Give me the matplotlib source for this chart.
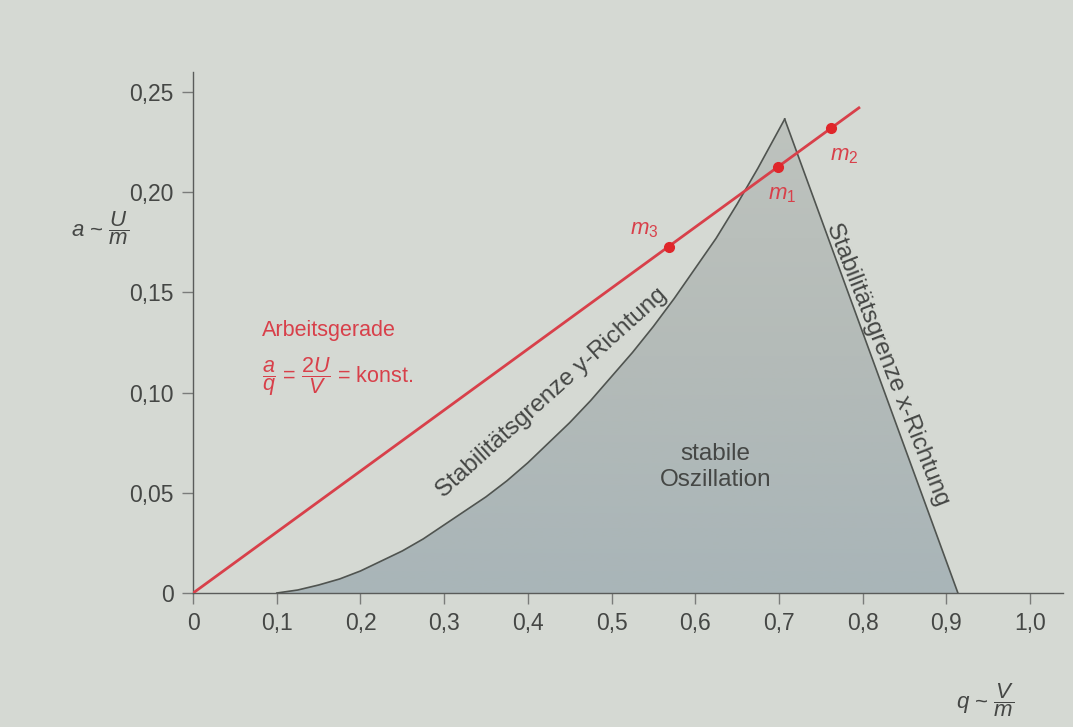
import numpy as np
import matplotlib.pyplot as plt
from matplotlib.patches import Polygon
from matplotlib.colors import LinearSegmentedColormap

plt.rcParams['font.family'] = ['Liberation Sans', 'DejaVu Sans']
plt.rcParams['mathtext.fontset'] = 'custom'
plt.rcParams['mathtext.rm'] = 'Liberation Sans'
plt.rcParams['mathtext.it'] = 'Liberation Sans:italic'

# stability boundary in y-direction
q_left = [0.100, 0.125, 0.150, 0.175, 0.200, 0.225, 0.250, 0.275, 0.300, 0.325, 0.350,
          0.375, 0.400, 0.425, 0.450, 0.475, 0.500, 0.525, 0.550, 0.575, 0.600, 0.625,
          0.650, 0.675, 0.707]
a_left = [0.0, 0.0015, 0.004, 0.007, 0.011, 0.016, 0.021, 0.027, 0.034, 0.041, 0.048,
          0.056, 0.065, 0.075, 0.085, 0.096, 0.108, 0.120, 0.133, 0.147, 0.162, 0.177,
          0.194, 0.212, 0.2365]
# stability boundary in x-direction
q_right = [0.707, 0.914]
a_right = [0.2365, 0.0]

# working line a/q = const and the three masses
line_q = [0.0, 0.797]
line_a = [0.0, 0.2425]
mass_q = [0.699, 0.762, 0.569]
mass_a = [0.2126, 0.232, 0.1726]
mass_labels = ['$m_1$', '$m_2$', '$m_3$']
mass_offsets = [(3, -20), (10, -20), (-18, 13)]

xticks = [0, 0.1, 0.2, 0.3, 0.4, 0.5, 0.6, 0.7, 0.8, 0.9, 1.0]
xtick_labels = ['0', '0,1', '0,2', '0,3', '0,4', '0,5', '0,6', '0,7', '0,8', '0,9', '1,0']
yticks = [0, 0.05, 0.10, 0.15, 0.20, 0.25]
ytick_labels = ['0', '0,05', '0,10', '0,15', '0,20', '0,25']

paper = '#d5d9d3'
ink = '#454745'
red = '#d8404a'

fig = plt.figure(figsize=(10.73, 7.27), dpi=100, facecolor=paper)
ax = fig.add_axes([0.18, 0.1843, 0.811, 0.7167])
ax.set_facecolor('none')

# shaded stable region with a soft gradient
poly_q = q_left + q_right[1:] + [0.1]
poly_a = a_left + a_right[1:] + [0.0]
poly = Polygon(np.column_stack([poly_q, poly_a]), closed=True, facecolor='none', edgecolor='none')
ax.add_patch(poly)
cmap = LinearSegmentedColormap.from_list('shade', ['#a9b5b8', '#b4bbb8', '#bec3be'])
grad = np.linspace(0, 1, 256).reshape(-1, 1)
im = ax.imshow(grad, extent=[0.1, 0.914, 0, 0.2365], origin='lower', cmap=cmap,
               aspect='auto', zorder=1)
im.set_clip_path(poly)

ax.plot(q_left, a_left, color='#505450', lw=1.2, zorder=2)
ax.plot(q_right, a_right, color='#505450', lw=1.2, zorder=2)

# working line
ax.plot(line_q, line_a, color=red, lw=2, zorder=3, solid_capstyle='butt')
ax.plot(mass_q, mass_a, 'o', color='#e0262a', ms=7, zorder=4)
for q, a, lab, off in zip(mass_q, mass_a, mass_labels, mass_offsets):
    ax.annotate(lab, (q, a), xytext=off, textcoords='offset points',
                ha='center', va='center', color=red, fontsize=16)

ax.set_xlim(0, 1.04)
ax.set_ylim(0, 0.26)
ax.set_xticks(xticks)
ax.set_xticklabels(xtick_labels)
ax.set_yticks(yticks)
ax.set_yticklabels(ytick_labels)
ax.tick_params(colors='#7a7c7a', labelcolor=ink, labelsize=16.5, length=8, width=1, pad=6)
for side in ['top', 'right']:
    ax.spines[side].set_visible(False)
for side in ['left', 'bottom']:
    ax.spines[side].set_color('#5a5c5a')
    ax.spines[side].set_linewidth(1)

# texts
ax.text(0.082, 0.131, 'Arbeitsgerade', color=red, fontsize=15.5, ha='left', va='center')
ax.text(0.082, 0.108, r'$\dfrac{a}{q}$ = $\dfrac{2U}{V}$ = konst.', color=red, fontsize=15.5,
        ha='left', va='center')
ax.text(0.624, 0.063, 'stabile\nOszillation', color=ink, fontsize=17.5, ha='center',
        va='center', linespacing=1.25)
ax.text(0.428, 0.100, 'Stabilitätsgrenze y-Richtung', color=ink, fontsize=17.5,
        rotation=42, ha='center', va='center', rotation_mode='anchor')
ax.text(0.830, 0.114, 'Stabilitätsgrenze x-Richtung', color=ink, fontsize=17.5,
        rotation=-68.5, ha='center', va='center', rotation_mode='anchor')

fig.text(100 / 1073, 1 - 228 / 727, r'$a$ ~ $\dfrac{U}{m}$', color=ink, fontsize=16,
         ha='center', va='center')
fig.text(985 / 1073, 1 - 700 / 727, r'$q$ ~ $\dfrac{V}{m}$', color=ink, fontsize=16,
         ha='center', va='center')

fig.savefig('out.png', dpi=100, facecolor=paper)
